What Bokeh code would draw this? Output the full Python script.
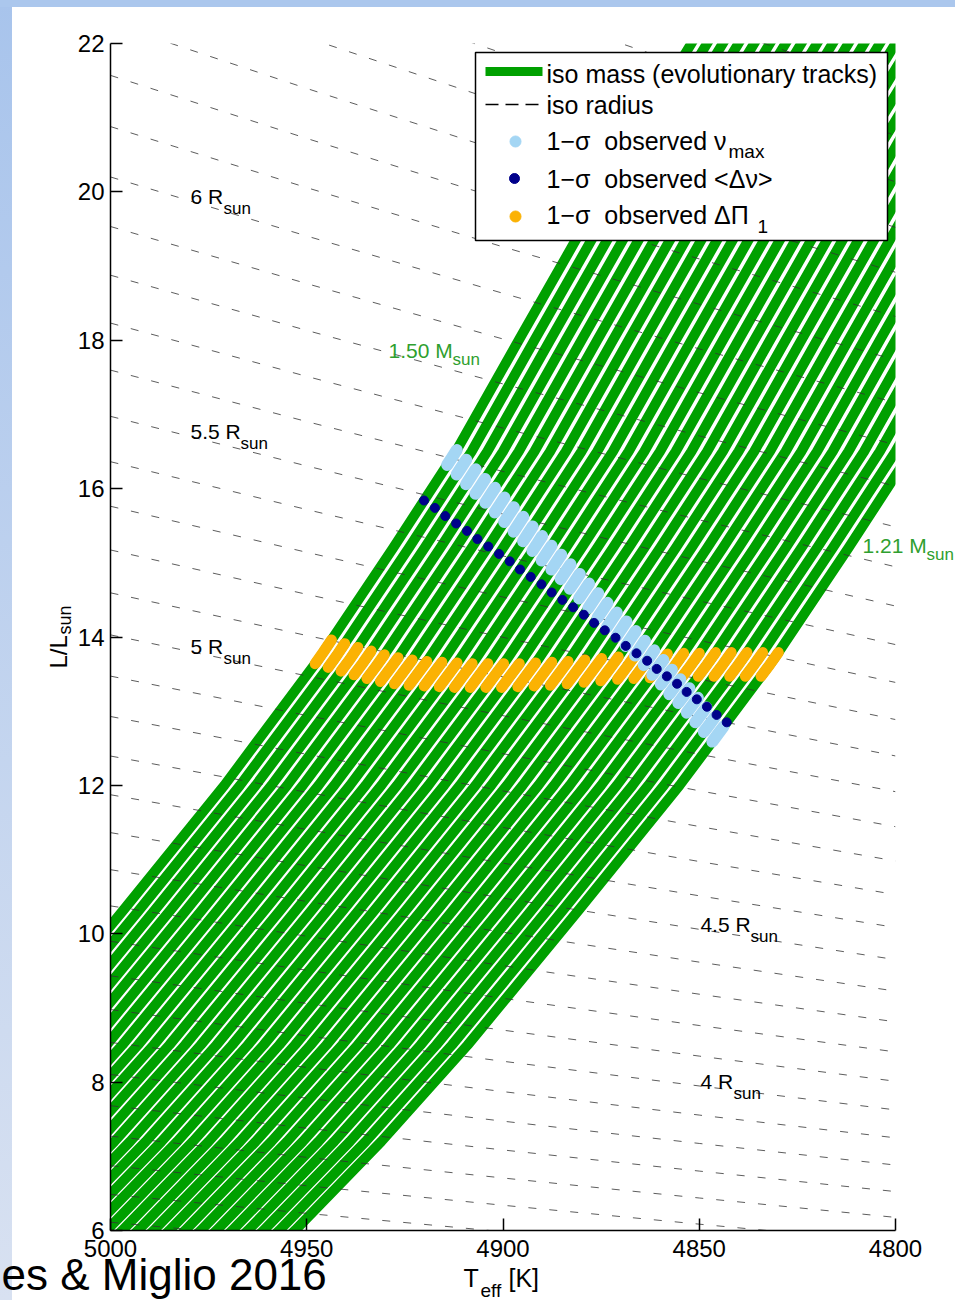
import math
import numpy as np
from bokeh.plotting import figure
from bokeh.models import Range1d, FixedTicker, Label
from bokeh.embed import file_html
from bokeh.resources import INLINE

# ---------------------------------------------------------------- data
# evolutionary tracks (iso mass), from the most to the least massive
masses = [1.50, 1.49, 1.48, 1.47, 1.46, 1.45, 1.44, 1.43, 1.42, 1.41,
          1.40, 1.39, 1.38, 1.37, 1.36, 1.35, 1.34, 1.33, 1.32, 1.31,
          1.30, 1.29, 1.28, 1.27, 1.26, 1.25, 1.24, 1.23, 1.22, 1.21]
# Teff [K] of every track where it crosses L = 13.7 Lsun
teff_at_ref = [4947, 4943, 4939, 4935, 4931, 4927, 4923, 4919, 4915, 4911,
               4907, 4903, 4899, 4895, 4891, 4887, 4883, 4879, 4875, 4871,
               4867, 4863, 4859, 4855, 4851, 4847, 4843, 4839, 4835, 4831]
REF_LUM = 13.7
# red-giant-branch shape of the 1.50 Msun track
shape_lum = [5.0, 6.0, 7.2, 8.5, 10.3, 12.0, 13.7, 15.2, 16.5, 18.0, 19.3, 20.7, 22.0, 23.0]
shape_teff = [5089, 5069, 5047, 5025, 4997, 4971, 4947, 4928, 4912, 4896, 4882, 4867, 4852, 4841]

# iso radius lines [Rsun]
radii = [3.3, 3.4, 3.5, 3.6, 3.7, 3.8, 3.9, 4.0, 4.1, 4.2, 4.3, 4.4, 4.5, 4.6,
         4.7, 4.8, 4.9, 5.0, 5.1, 5.2, 5.3, 5.4, 5.5, 5.6, 5.7, 5.8, 5.9, 6.0,
         6.1, 6.2, 6.3, 6.4, 6.5, 6.6, 6.7, 6.8]
TEFF_SUN = 5777.0
radius_labels = [6.0, 5.5, 5.0, 4.5, 4.0]
radius_label_teff = [4979.6, 4979.6, 4979.6, 4849.7, 4849.7]

# 1-sigma observational constraints: luminosity on each track
numax_lum = [16.42, 16.29, 16.16, 16.03, 15.91, 15.78, 15.65, 15.52, 15.39, 15.26,
             15.13, 15.01, 14.88, 14.75, 14.62, 14.49, 14.36, 14.23, 14.11, 13.98,
             13.85, 13.72, 13.59, 13.46, 13.33, 13.21, 13.08, 12.95, 12.82, 12.69]
dnu_lum = [15.84, 15.74, 15.63, 15.53, 15.43, 15.32, 15.22, 15.12, 15.02, 14.91,
           14.81, 14.71, 14.60, 14.50, 14.40, 14.30, 14.19, 14.09, 13.99, 13.88,
           13.78, 13.68, 13.57, 13.47, 13.37, 13.26, 13.16, 13.06, 12.95, 12.85]
dpi_lum = [13.80, 13.75, 13.70, 13.65, 13.60, 13.56, 13.53, 13.51, 13.50, 13.49,
           13.48, 13.48, 13.48, 13.48, 13.49, 13.50, 13.51, 13.53, 13.55, 13.57,
           13.59, 13.60, 13.61, 13.62, 13.62, 13.63, 13.63, 13.63, 13.63, 13.63]
NUMAX_HALF = 0.10
DPI_HALF = 0.16

x_ticks = [5000, 4950, 4900, 4850, 4800]
y_ticks = [6, 8, 10, 12, 14, 16, 18, 20, 22]

# ---------------------------------------------------------------- style
GREEN = "#00a000"
LIGHT_BLUE = "#a4d6f4"
NAVY = "#00008b"
ORANGE = "#fbb203"
LABEL_GREEN = "#2f9f2f"
FONT = "Liberation Sans"

W, H = 955, 1300
FL, FR, FT, FB = 110, 895, 43, 1230   # frame edges in px
X_START, X_END = 5000, 4800
Y_START, Y_END = 6, 22


def tx(px):
    return X_START + (px - FL) * (X_END - X_START) / (FR - FL)


def ly(py):
    return Y_END - (py - FT) * (Y_END - Y_START) / (FB - FT)


p = figure(width=W, height=H,
           x_range=Range1d(X_START, X_END), y_range=Range1d(Y_START, Y_END),
           output_backend="svg", toolbar_location=None,
           min_border_left=FL, min_border_right=W - FR,
           min_border_top=FT, min_border_bottom=H - FB,
           background_fill_color="white", border_fill_color=None,
           outline_line_color=None,
           styles={"background":
                   "linear-gradient(#abc7ed, #abc7ed) 0 0 / 100% 7px no-repeat, "
                   "linear-gradient(#a8c4ec, #d8e1f1) 0 0 / 12px 100% no-repeat, "
                   "#ffffff"})
p.xgrid.visible = False
p.ygrid.visible = False

for ax, ticks in ((p.xaxis, x_ticks), (p.yaxis, y_ticks)):
    ax.ticker = FixedTicker(ticks=ticks)
    ax.axis_line_width = 1.5
    ax.axis_line_color = "black"
    ax.major_tick_line_width = 1.5
    ax.major_tick_line_color = "black"
    ax.major_tick_in = 12
    ax.major_tick_out = 0
    ax.minor_tick_in = 0
    ax.minor_tick_out = 0
    ax.major_label_text_font = FONT
    ax.major_label_text_font_size = "24px"
    ax.major_label_text_color = "black"
p.xaxis.major_label_standoff = 9
p.yaxis.major_label_standoff = 6


# ---------------------------------------------------------------- tracks
def track_teff(i, lum):
    shift = teff_at_ref[i] - np.interp(REF_LUM, shape_lum, shape_teff)
    return np.interp(lum, shape_lum, shape_teff) + shift


track_xs = [list(track_teff(i, np.array(shape_lum))) for i in range(len(masses))]
track_ys = [list(shape_lum) for _ in masses]
p.multi_line(track_xs, track_ys, line_color=GREEN, line_width=10,
             line_cap="round", line_join="round")

# iso radius: L = R^2 (Teff / Teff_sun)^4
iso_xs = [list(x_ticks) for _ in radii]
iso_ys = [[r ** 2 * (t / TEFF_SUN) ** 4 for t in x_ticks] for r in radii]
p.multi_line(iso_xs, iso_ys, line_color="#333333", line_width=0.8, line_dash="8 13")

# 1-sigma segments along each track
dpi_xs, dpi_ys, nu_xs, nu_ys = [], [], [], []
for i in range(len(masses)):
    ls = np.array([dpi_lum[i] - DPI_HALF, dpi_lum[i], dpi_lum[i] + DPI_HALF])
    dpi_xs.append(list(track_teff(i, ls)))
    dpi_ys.append(list(ls))
    ls = np.array([numax_lum[i] - NUMAX_HALF, numax_lum[i], numax_lum[i] + NUMAX_HALF])
    nu_xs.append(list(track_teff(i, ls)))
    nu_ys.append(list(ls))
p.multi_line(dpi_xs, dpi_ys, line_color=ORANGE, line_width=11, line_cap="round")
p.multi_line(nu_xs, nu_ys, line_color=LIGHT_BLUE, line_width=12, line_cap="round")
dnu_x = [float(track_teff(i, dnu_lum[i])) for i in range(len(masses))]
p.scatter(dnu_x, dnu_lum, size=9, color=NAVY, marker="circle")


# ---------------------------------------------------------------- text helpers
def label(fig, x, y, text, size, color="black", align="left", angle=0.0, dx=0, dy=0):
    fig.add_layout(Label(x=x, y=y, text=text, text_font=FONT, text_font_size=f"{size}px",
                         text_color=color, text_align=align, text_baseline="middle",
                         angle=angle, x_offset=dx, y_offset=dy))


# iso radius annotations, sitting on their lines
for r, t in zip(radius_labels, radius_label_teff):
    txt = f"{r:g} R"
    w = 33 if len(txt) == 3 else 50
    lum = r ** 2 * (t / TEFF_SUN) ** 4
    label(p, t, lum, txt, 21, dy=5)
    label(p, t, lum, "sun", 17, dx=w, dy=-7)

# mass annotation of the most massive track
label(p, tx(388), ly(350), f"{masses[0]:.2f} M", 21, color=LABEL_GREEN)
label(p, tx(452), ly(359), "sun", 17, color=LABEL_GREEN)

# ---------------------------------------------------------------- legend
p.quad(left=[tx(475)], right=[tx(887)], top=[ly(52)], bottom=[ly(240)],
       fill_color="white", line_color="black", line_width=1.5)
p.line([tx(485), tx(542)], [ly(71), ly(71)], line_color=GREEN, line_width=9)
p.line([tx(485), tx(541)], [ly(104), ly(104)], line_color="black", line_width=1.3,
       line_dash="13 7")
p.scatter([tx(515)], [ly(141)], size=11, color=LIGHT_BLUE, marker="circle")
p.scatter([tx(514)], [ly(178)], size=10, color=NAVY, marker="circle")
p.scatter([tx(515)], [ly(216)], size=11, color=ORANGE, marker="circle")

SIG = "1\u2212\u03c3\u00a0 observed "
legend_rows = [("iso mass (evolutionary tracks)", 73),
               ("iso radius", 104),
               (SIG + "\u03bd", 140),
               (SIG + "<\u0394\u03bd>", 178),
               (SIG + "\u0394\u03a0", 214)]
for text, ypx in legend_rows:
    label(p, tx(546), ly(ypx), text, 25)
label(p, tx(728), ly(151), "max", 19)
label(p, tx(757), ly(226), "1", 19)

# ---------------------------------------------------------------- outer texts
# transparent layer spanning the whole page, in pixel units, for texts that
# sit outside the plotting frame
overlay = figure(width=W, height=H, x_range=Range1d(0, W), y_range=Range1d(H, 0),
                 output_backend="svg", toolbar_location=None, min_border=0,
                 x_axis_location=None, y_axis_location=None, title=None,
                 background_fill_color=None, border_fill_color=None,
                 outline_line_color=None,
                 styles={"position": "absolute", "left": "0px", "top": "0px"})
overlay.grid.visible = False

label(overlay, 862, 545, f"{masses[-1]:.2f} M", 21, color=LABEL_GREEN)
label(overlay, 926, 554, "sun", 17, color=LABEL_GREEN)

label(overlay, 463, 1277, "T", 25)
label(overlay, 480, 1290, "eff", 19)
label(overlay, 508, 1277, "[K]", 25)
label(overlay, 58, 668, "L/L", 24, angle=math.pi / 2)
label(overlay, 64, 634, "sun", 18, angle=math.pi / 2)

label(overlay, 1, 1274, "es & Miglio 2016", 44)

open("out.html", "w").write(file_html([p, overlay], INLINE))
